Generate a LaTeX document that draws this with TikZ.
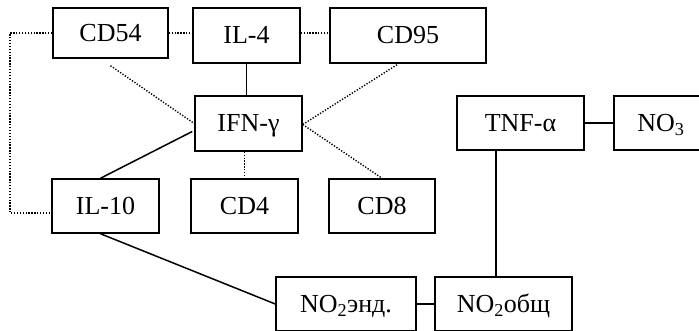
\documentclass[tikz,border=0pt]{standalone}
\usepackage{fontspec}
\setmainfont{Liberation Serif}
\usetikzlibrary{calc}
\tikzset{
  box/.style={draw, line width=1.5pt, inner sep=0pt, text height=17pt, text depth=0pt,
    font=\fontsize{26}{30}\selectfont},
  solidlink/.style={line width=1.5pt},
  dotlink/.style={line width=1.4pt, dash pattern=on 1.3pt off 1.6pt},
}
\begin{document}
\begin{tikzpicture}[x=1pt,y=-1pt]
\useasboundingbox (0,0) rectangle (699,331);
% nodes
\node[box, minimum width=115pt, minimum height=50pt] (cd54) at (110.5,33) {CD54};
\node[box, minimum width=107pt, minimum height=55pt] (il4) at (246.5,35.5) {IL-4};
\node[box, minimum width=156pt, minimum height=55pt] (cd95) at (408,35.5) {CD95};
\node[box, minimum width=107pt, minimum height=55pt] (ifn) at (248.5,123.5) {IFN-γ};
\node[box, minimum width=107pt, minimum height=54pt] (il10) at (105.5,206) {IL-10};
\node[box, minimum width=107pt, minimum height=54pt] (cd4) at (244.5,206) {CD4};
\node[box, minimum width=106pt, minimum height=54pt] (cd8) at (382,206) {CD8};
\node[box, minimum width=127pt, minimum height=54pt] (tnf) at (520.5,123) {TNF-α};
\node[box, minimum width=94pt, minimum height=54pt] (no3) at (661,123) {NO\textsubscript{3}};
\node[box, minimum width=140pt, minimum height=54pt] (noend) at (346,304) {NO\textsubscript{2}энд.};
\node[box, minimum width=137pt, minimum height=54pt] (noobs) at (503.5,304) {NO\textsubscript{2}общ};
% helper coordinates
\coordinate (lc) at (10,33);
\coordinate (tx) at ($(tnf.south)+(-24.5,0)$);
% dotted connectors
\draw[dotlink] (cd54.west) -- (lc) |- ($(il10.west)+(0,7)$);
\draw[dotlink] (cd54.east) -- (cd54.east -| il4.west);
\draw[dotlink] ($(il4.east)+(0,-2.5)$) -- ($(cd95.west)+(0,-2.5)$);
\draw[dotlink] ($(cd54.south)+(0,7)$) -- (ifn.west);
\draw[dotlink] ($(cd95.south)+(-11,1)$) -- ($(ifn.east)+(0,1)$);
\draw[dotlink] (ifn.south -| cd4.north) -- (cd4.north);
\draw[dotlink] ($(ifn.east)+(0,1)$) -- (cd8.north);
% solid connectors
\draw[solidlink] (il4.south) -- (il4.south |- ifn.north);
\draw[solidlink] ($(ifn.west)+(-2,8)$) -- ($(il10.north)+(-5,0)$);
\draw[solidlink] ($(il10.south)+(-5,0)$) -- (noend.west);
\draw[solidlink] (noend.east) -- (noobs.west);
\draw[solidlink] (tx) -- (tx |- noobs.north);
\draw[solidlink] (tnf.east) -- (no3.west);
\end{tikzpicture}
\end{document}
